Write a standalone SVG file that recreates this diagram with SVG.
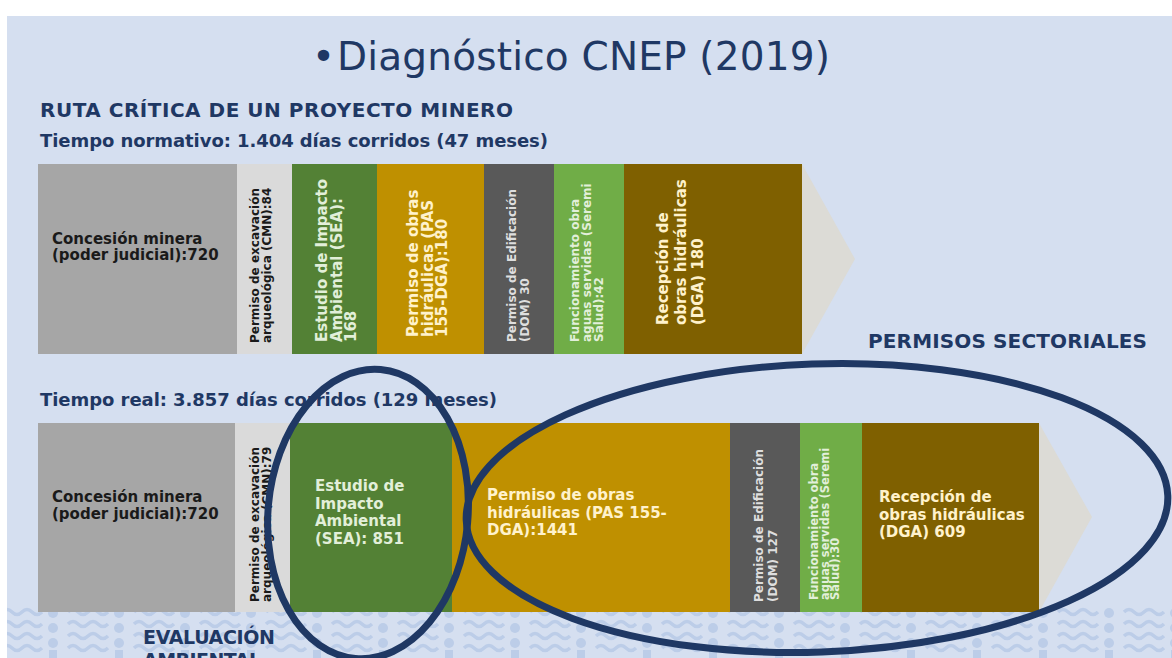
<svg xmlns="http://www.w3.org/2000/svg" width="1172" height="658" viewBox="0 0 1172 658">
<defs>
<style>
.t{font-family:"DejaVu Sans",Verdana,sans-serif;font-weight:bold}
.nav{fill:#1f3864}
.dk{fill:#1a1a1a}
.pg{fill:#e2efd9}
.py{fill:#fff2cc}
.lg{fill:#dedede}
.b15{font-size:15px}
.b12{font-size:12px}
.ring{fill:none;stroke:#1f3864;stroke-width:7}
.chev{fill:#dcdbd6}
</style>
<pattern id="deco" x="0" y="604" width="66" height="54" patternUnits="userSpaceOnUse">
<g fill="none" stroke="#bccde8" stroke-width="3.5">
<path d="M2 8 q5 -5 10 0 t10 0 t10 0 t10 0"/>
<path d="M2 20 q5 -5 10 0 t10 0 t10 0 t10 0"/>
<path d="M2 32 q5 -5 10 0 t10 0 t10 0 t10 0"/>
<path d="M2 44 q5 -5 10 0 t10 0 t10 0 t10 0"/>
</g>
<g fill="#bccde8">
<circle cx="53" cy="9" r="5"/>
<circle cx="53" cy="24" r="5"/>
<circle cx="53" cy="39" r="5"/>
<rect x="49" y="46" width="8" height="8"/>
</g>
</pattern>
</defs>
<rect x="0" y="0" width="1172" height="658" fill="#ffffff"/>
<rect x="7" y="16" width="1165" height="642" fill="#d5dff0"/>
<rect x="7" y="604" width="1165" height="54" fill="url(#deco)"/>

<g id="title">
<text x="312" y="70" font-family="DejaVu Sans,Verdana,sans-serif" font-size="39" class="nav">•</text>
<text x="337" y="70" font-family="DejaVu Sans,Verdana,sans-serif" font-size="39" class="nav" textLength="493">Diagnóstico CNEP (2019)</text>
</g>
<g id="headings">
<text class="t nav" x="40" y="117" font-size="20" textLength="473">RUTA CRÍTICA  DE UN PROYECTO  MINERO</text>
<text class="t nav" x="40" y="147" font-size="18" textLength="508">Tiempo normativo: 1.404 días corridos (47 meses)</text>
<text class="t nav" x="40" y="406" font-size="18" textLength="457">Tiempo real: 3.857 días corridos (129 meses)</text>
<text class="t nav" x="868" y="348" font-size="20" textLength="279">PERMISOS SECTORIALES</text>
<text class="t nav" x="143" y="644" font-size="19" textLength="132">EVALUACIÓN</text>
<text class="t nav" x="143" y="667" font-size="19" textLength="118">AMBIENTAL</text>
</g>

<!-- Row 1: tiempo normativo -->
<g id="n1-arrow"><polygon class="chev" points="802,164 855,259 802,354"/></g>
<g id="n1-concesion">
<rect x="38" y="164" width="199" height="190" fill="#a6a6a6"/>
<text class="t dk b15" x="52" y="244">Concesión minera<tspan x="52" dy="16">(poder judicial):720</tspan></text>
</g>
<g id="n1-cmn">
<rect x="237" y="164" width="55" height="190" fill="#dadada"/>
<text class="t dk b12" transform="translate(259,343) rotate(-90)">Permiso de excavación<tspan x="0" dy="11.5">arqueológica  (CMN):84</tspan></text>
</g>
<g id="n1-sea">
<rect x="292" y="164" width="85" height="190" fill="#538135"/>
<text class="t pg b15" transform="translate(327,342) rotate(-90)">Estudio de Impacto<tspan x="0" dy="14.5">Ambiental  (SEA):</tspan><tspan x="0" dy="14.5">168</tspan></text>
</g>
<g id="n1-pas">
<rect x="377" y="164" width="107" height="190" fill="#bf9000"/>
<text class="t py b15" transform="translate(418,337) rotate(-90)">Permiso de obras<tspan x="0" dy="14.5">hidráulicas  (PAS</tspan><tspan x="0" dy="14.5">155-DGA):180</tspan></text>
</g>
<g id="n1-dom">
<rect x="484" y="164" width="70" height="190" fill="#595959"/>
<text class="t lg b12" transform="translate(516,342) rotate(-90)">Permiso de Edificación<tspan x="0" dy="13">(DOM)  30</tspan></text>
</g>
<g id="n1-seremi">
<rect x="554" y="164" width="70" height="190" fill="#70ad47"/>
<text class="t pg b12" transform="translate(579,342) rotate(-90)">Funcionamiento obra<tspan x="0" dy="12">aguas servidas (Seremi</tspan><tspan x="0" dy="12">Salud):42</tspan></text>
</g>
<g id="n1-dga">
<rect x="624" y="164" width="178" height="190" fill="#7f6000"/>
<text class="t py b15" transform="translate(668,325) rotate(-90)">Recepción de<tspan x="0" dy="17.5">obras hidráulicas</tspan><tspan x="0" dy="17.5">(DGA)  180</tspan></text>
</g>

<!-- Row 2: tiempo real -->
<g id="n2-arrow"><polygon class="chev" points="1039,423 1092,517 1039,612"/></g>
<g id="n2-concesion">
<rect x="38" y="423" width="197" height="189" fill="#a6a6a6"/>
<text class="t dk b15" x="52" y="502">Concesión minera<tspan x="52" dy="16.5">(poder judicial):720</tspan></text>
</g>
<g id="n2-cmn">
<rect x="235" y="423" width="55" height="189" fill="#dadada"/>
<text class="t dk b12" transform="translate(259,602) rotate(-90)">Permiso de excavación<tspan x="0" dy="11.5">arqueológica  (CMN):79</tspan></text>
</g>
<g id="n2-sea">
<rect x="290" y="423" width="162" height="189" fill="#538135"/>
<text class="t pg b15" x="315" y="491">Estudio  de<tspan x="315" dy="17.5">Impacto</tspan><tspan x="315" dy="17.5">Ambiental</tspan><tspan x="315" dy="17.5">(SEA): 851</tspan></text>
</g>
<g id="n2-pas">
<rect x="452" y="423" width="278" height="189" fill="#bf9000"/>
<text class="t py b15" x="487" y="500">Permiso de obras<tspan x="487" dy="17.5">hidráulicas  (PAS 155-</tspan><tspan x="487" dy="17.5">DGA):1441</tspan></text>
</g>
<g id="n2-dom">
<rect x="730" y="423" width="70" height="189" fill="#595959"/>
<text class="t lg b12" transform="translate(763,602) rotate(-90)">Permiso de Edificación<tspan x="0" dy="14">(DOM)  127</tspan></text>
</g>
<g id="n2-seremi">
<rect x="800" y="423" width="62" height="189" fill="#70ad47"/>
<text class="t pg" font-size="11.5" transform="translate(818,600) rotate(-90)">Funcionamiento obra<tspan x="0" dy="10.5">aguas servidas (Seremi</tspan><tspan x="0" dy="10.5">Salud):30</tspan></text>
</g>
<g id="n2-dga">
<rect x="862" y="423" width="177" height="189" fill="#7f6000"/>
<text class="t py b15" x="879" y="502">Recepción de<tspan x="879" dy="17.5">obras hidráulicas</tspan><tspan x="879" dy="17.5">(DGA) 609</tspan></text>
</g>

<g id="connectors">
<ellipse class="ring" cx="368" cy="514" rx="100" ry="145" transform="rotate(5 368 514)"/>
<ellipse class="ring" cx="817" cy="508" rx="351" ry="144" transform="rotate(-2 817 508)"/>
</g>
</svg>
